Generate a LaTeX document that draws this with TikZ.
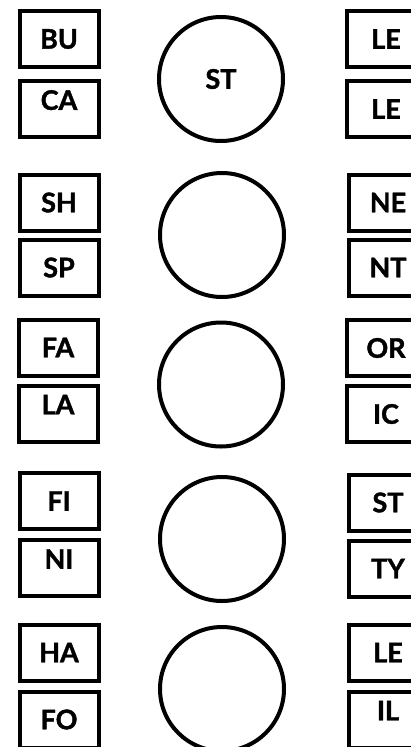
\documentclass[tikz,border=0pt]{standalone}
\usepackage{fontspec}
\setsansfont{Lato}[BoldFeatures={FakeBold=1.5}]
\usetikzlibrary{positioning}

\begin{document}
\begin{tikzpicture}[
	x=1pt, y=-1pt,
	tag/.style={rectangle, draw, line width=4pt, minimum width=79pt, minimum height=56pt, inner sep=0pt, font=\sffamily\bfseries\fontsize{27}{27}\selectfont},
	high/.style={text depth=18pt},
	disc/.style={circle, draw, line width=4pt, minimum size=124pt, inner sep=0pt, font=\sffamily\bfseries\fontsize{27}{27}\selectfont}
]
	\useasboundingbox (0,0) rectangle (410,747);

	% Left column
	\node[tag] (bu) at (59,39) {BU};
	\node[tag, high, below=10pt of bu] (ca) {CA};
	\node[tag] (sh) at (59,202.5) {SH};
	\node[tag, below=5pt of sh] (sp) {SP};
	\node[tag] (fa) at (58,347.5) {FA};
	\node[tag, high, below=6pt of fa] (la) {LA};
	\node[tag] (fi) at (59,501) {FI};
	\node[tag, high, below=7pt of fi] (ni) {NI};
	\node[tag] (ha) at (59,652.5) {HA};
	\node[tag, below=7pt of ha] (fo) {FO};

	% Middle column
	\node[disc] (st) at (221,79) {ST};
	\node[disc] (c2) at (222,235) {};
	\node[disc] (c3) at (221,384.5) {};
	\node[disc] (c4) at (222,539) {};
	\node[disc] (c5) at (222,689) {};

	% Right column
	\node[tag] (le1) at (386,39) {LE};
	\node[tag, below=10pt of le1] (le2) {LE};
	\node[tag] (ne) at (388,202.5) {NE};
	\node[tag, below=5pt of ne] (nt) {NT};
	\node[tag] (or) at (386,348) {OR};
	\node[tag, below=6pt of or] (ic) {IC};
	\node[tag] (stb) at (388,502.5) {ST};
	\node[tag, below=6pt of stb] (ty) {TY};
	\node[tag] (le3) at (388,652.5) {LE};
	\node[tag, high, below=7pt of le3] (il) {IL};
\end{tikzpicture}
\end{document}
